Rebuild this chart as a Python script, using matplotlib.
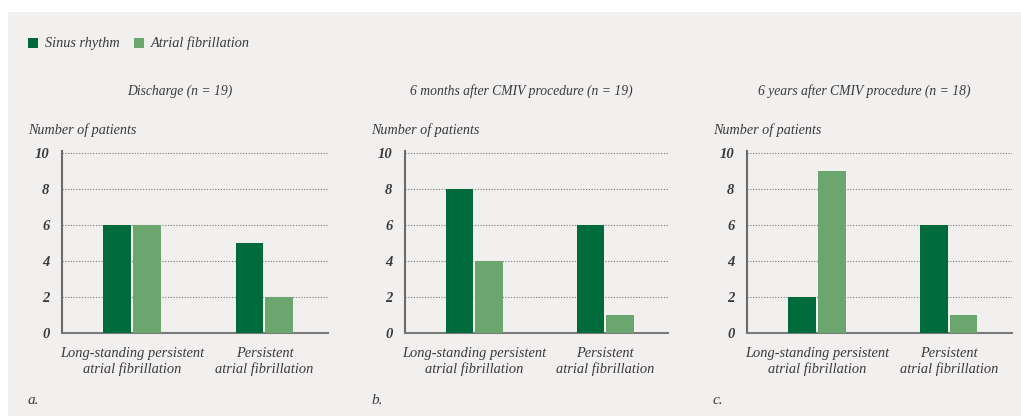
import matplotlib.pyplot as plt
from matplotlib.patches import Rectangle

# data
categories = ["Long-standing persistent\natrial fibrillation", "Persistent\natrial fibrillation"]
series_names = ["Sinus rhythm", "Atrial fibrillation"]
titles = ["Discharge (n = 19)", "6 months after CMIV procedure (n = 19)", "6 years after CMIV procedure (n = 18)"]
panel_letters = ["a.", "b.", "c."]
sinus = [[6, 5], [8, 6], [2, 6]]
atrial = [[6, 2], [4, 1], [9, 1]]
yticks = [0, 2, 4, 6, 8, 10]

dark = "#006b3a"
light = "#6aa66d"
bg = "#f2efef"
txt = "#3a3a3a"
W, H = 1021, 416

plt.rcParams['font.family'] = ['Liberation Serif', 'DejaVu Serif']
plt.rcParams['font.style'] = 'italic'

fig = plt.figure(figsize=(W / 100, H / 100), dpi=100, facecolor="white")
fig.patches.append(Rectangle((8 / W, 0), 1, 1 - 12 / H, transform=fig.transFigure,
                             facecolor=bg, edgecolor="none", zorder=-10))


def fx(px):
    return px / W


def fy(py):
    return 1 - py / H


# legend
for i, (name, col) in enumerate(zip(series_names, [dark, light])):
    x0 = [28, 134][i]
    fig.patches.append(Rectangle((fx(x0), fy(48)), 10 / W, 10 / H, transform=fig.transFigure,
                                 facecolor=col, edgecolor="none"))
    fig.text(fx(x0 + 17), fy(43), name, fontsize=10.3, color=txt, va="center", ha="left")

lefts = [62, 405, 747]
rights = [328, 668, 1012]
bottom_px, top_px = 333, 151
w = 0.21
gap = 0.015

for k in range(3):
    l, r = lefts[k], rights[k]
    ax = fig.add_axes([fx(l), fy(bottom_px), (r - l) / W, (bottom_px - top_px) / H])
    ax.set_facecolor("none")
    xs = range(len(categories))
    ax.bar([x - w / 2 - gap / 2 for x in xs], sinus[k], width=w, color=dark, zorder=3)
    ax.bar([x + w / 2 + gap / 2 for x in xs], atrial[k], width=w, color=light, zorder=3)
    ax.set_xlim(-0.53, 1.48)
    ax.set_ylim(0, 10.1)
    ax.set_yticks(yticks)
    ax.set_yticklabels([str(v) for v in yticks], fontsize=10.5, color=txt, fontweight="bold")
    ax.set_xticks(list(xs))
    ax.set_xticklabels(categories, fontsize=10.4, color=txt, linespacing=1.2)
    ax.tick_params(axis="y", length=0, pad=9)
    ax.tick_params(axis="x", length=0, pad=10)
    for s in ["top", "right"]:
        ax.spines[s].set_visible(False)
    ax.spines["left"].set_color("#6a6a6a")
    ax.spines["left"].set_linewidth(1.5)
    ax.spines["bottom"].set_color("#7a7a7a")
    ax.spines["bottom"].set_linewidth(1.5)
    ax.grid(axis="y", linestyle=(0, (1, 1.5)), color="#777777", linewidth=0.8, zorder=0)
    ax.set_axisbelow(True)

    center = (l + r) / 2 - 15
    fig.text(fx(center), fy(91), titles[k], fontsize=9.8, color=txt, ha="center", va="center")
    fig.text(fx(l - 34), fy(130), "Number of patients", fontsize=10.2, color=txt, ha="left", va="center")
    fig.text(fx(l - 34), fy(400), panel_letters[k], fontsize=11, color=txt, ha="left", va="center")

fig.savefig("out.png", dpi=100, facecolor="white")
